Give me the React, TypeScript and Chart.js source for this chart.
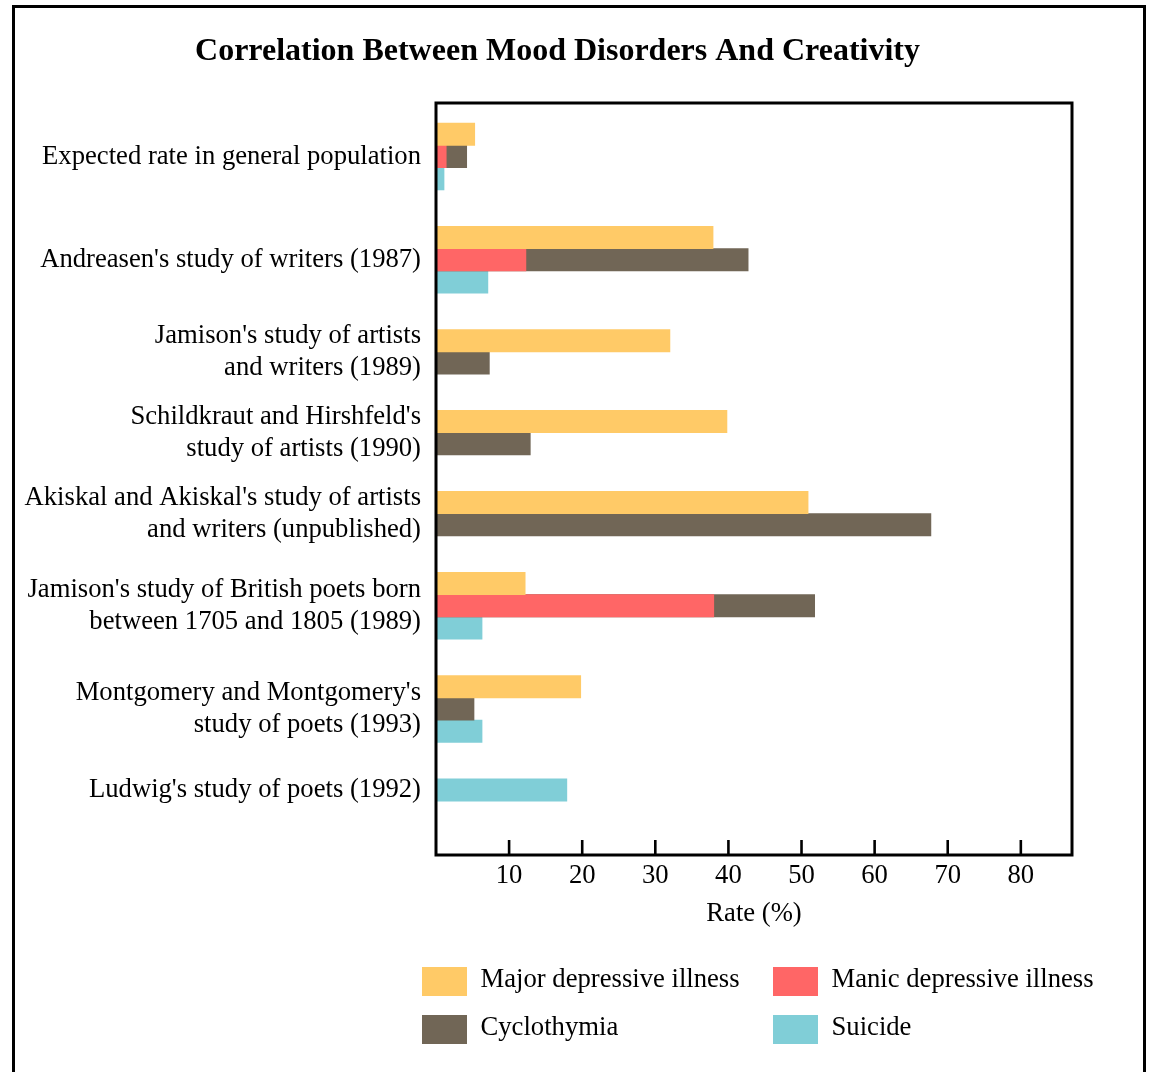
import React, { useEffect, useRef } from "react";
import { Chart, registerables } from "chart.js";

Chart.register(...registerables);

// ---------- data ----------
const categories: (string | string[])[] = [
  "Expected rate in general population",
  "Andreasen's study of writers (1987)",
  ["Jamison's study of artists", "and writers (1989)"],
  ["Schildkraut and Hirshfeld's", "study of artists (1990)"],
  ["Akiskal and Akiskal's study of artists", "and writers (unpublished)"],
  ["Jamison's study of British poets born", "between 1705 and 1805 (1989)"],
  ["Montgomery and Montgomery's", "study of poets (1993)"],
  "Ludwig's study of poets (1992)",
];

const seriesNames = [
  "Major depressive illness",
  "Manic depressive illness",
  "Cyclothymia",
  "Suicide",
];

const majorDepressive: (number | null)[] = [5.3, 37.9, 32, 39.8, 50.9, 12.2, 19.8, null];
const manicDepressive: (number | null)[] = [1.4, 12.3, null, null, null, 38, null, null];
const cyclothymia: (number | null)[] = [4.2, 42.7, 7.3, 12.9, 67.7, 51.8, 5.2, null];
const suicide: (number | null)[] = [1.1, 7.1, null, null, null, 6.3, 6.3, 17.9];

const xTickValues = [10, 20, 30, 40, 50, 60, 70, 80];
const xMax = 87;

const chartTitle = "Correlation Between Mood Disorders And Creativity";
const xTitle = "Rate (%)";

// ---------- styles ----------
const seriesColors = ["#ffca67", "#ff6666", "#716656", "#80ced7"];
// manic and cyclothymia share one row (manic drawn in front)
const seriesSlot = [0, 1, 1, 2];
const FONT = "'Liberation Serif', 'Times New Roman', Times, serif";
const FS = 26.67;

// row layout (in row units)
const GAP = 1.63;
const PAD_TOP = 0.9;
const PAD_BOTTOM = 2.42;

const allSeries = [majorDepressive, manicDepressive, cyclothymia, suicide];

function buildLayout() {
  let cursor = PAD_TOP;
  const centers: number[] = [];
  const positions: (number | null)[][] = allSeries.map(() => []);
  categories.forEach((_, ci) => {
    if (ci > 0) cursor += GAP;
    const start = cursor;
    const slotPos: Record<number, number> = {};
    [0, 1, 2].forEach((slot) => {
      const used = allSeries.some((arr, si) => seriesSlot[si] === slot && arr[ci] != null);
      if (used) {
        slotPos[slot] = cursor + 0.5;
        cursor += 1;
      }
    });
    centers.push((start + cursor) / 2);
    allSeries.forEach((arr, si) => {
      positions[si][ci] = arr[ci] == null ? null : slotPos[seriesSlot[si]];
    });
  });
  return { centers, positions, total: cursor + PAD_BOTTOM };
}

const framePlugin = {
  id: "frameAndTicks",
  afterDatasetsDraw(chart: any) {
    const { ctx, chartArea, scales } = chart;
    const { left, top, right, bottom } = chartArea;
    ctx.save();
    ctx.strokeStyle = "#000";
    ctx.lineWidth = 3;
    ctx.strokeRect(left, top, right - left, bottom - top);
    ctx.lineWidth = 2.6;
    scales.x.ticks.forEach((t: any) => {
      if (t.value <= 0) return;
      const px = scales.x.getPixelForValue(t.value);
      ctx.beginPath();
      ctx.moveTo(px, bottom);
      ctx.lineTo(px, bottom - 15);
      ctx.stroke();
    });
    ctx.restore();
  },
};

const legendPlugin = {
  id: "gridLegend",
  afterDraw(chart: any) {
    const { ctx } = chart;
    const colX = [422, 773];
    const rowY = [967, 1015];
    ctx.save();
    ctx.font = `${FS}px ${FONT}`;
    ctx.textAlign = "left";
    ctx.textBaseline = "alphabetic";
    chart.data.datasets.forEach((ds: any, i: number) => {
      const x = colX[i % 2];
      const y = rowY[Math.floor(i / 2)];
      ctx.fillStyle = ds.backgroundColor;
      ctx.fillRect(x, y, 45, 29);
      ctx.fillStyle = "#000";
      ctx.fillText(ds.label, x + 58.5, y + 19.5);
    });
    ctx.restore();
  },
};

export default function App() {
  const ref = useRef<HTMLCanvasElement>(null);

  useEffect(() => {
    const { centers, positions, total } = buildLayout();
    const datasets = allSeries.map((arr, si) => ({
      label: seriesNames[si],
      backgroundColor: seriesColors[si],
      borderWidth: 0,
      grouped: false,
      barPercentage: 1,
      categoryPercentage: 1,
      data: arr
        .map((v, ci) => (v == null ? null : { x: v, y: positions[si][ci] as number }))
        .filter((p) => p !== null) as { x: number; y: number }[],
    }));

    const chart = new Chart(ref.current as HTMLCanvasElement, {
      type: "bar",
      data: { datasets },
      plugins: [framePlugin, legendPlugin],
      options: {
        indexAxis: "y",
        responsive: false,
        animation: false,
        layout: { padding: { left: 20, right: 54, top: 0, bottom: 142 } },
        plugins: {
          legend: { display: false },
          tooltip: { enabled: false },
          title: {
            display: true,
            text: chartTitle,
            color: "#000",
            font: { family: FONT, size: 32, weight: "bold", lineHeight: 1.2 },
            padding: { top: 33, bottom: 31.6 },
          },
        },
        scales: {
          x: {
            type: "linear",
            position: "bottom",
            min: 0,
            max: xMax,
            offset: false,
            grid: { display: false, drawTicks: false },
            border: { display: false },
            afterBuildTicks: (s: any) => {
              s.ticks = [0, ...xTickValues].map((v) => ({ value: v }));
            },
            ticks: {
              autoSkip: false,
              maxRotation: 0,
              padding: 5,
              color: "#000",
              font: { family: FONT, size: FS },
              callback: (v: any) => (v === 0 ? "" : String(v)),
            },
            title: {
              display: true,
              text: xTitle,
              color: "#000",
              font: { family: FONT, size: FS, lineHeight: 1.2 },
              padding: { top: 0, bottom: 0 },
            },
            afterFit: (s: any) => {
              s.height = 75;
            },
          },
          y: {
            type: "linear",
            position: "left",
            reverse: true,
            offset: false,
            min: 0,
            max: total,
            grid: { display: false, drawTicks: false },
            border: { display: false },
            afterBuildTicks: (s: any) => {
              s.ticks = centers.map((v) => ({ value: v }));
            },
            ticks: {
              autoSkip: false,
              padding: 15,
              color: "#000",
              font: { family: FONT, size: FS, lineHeight: 32 / FS },
              callback: (_v: any, i: number) => categories[i],
            },
            afterFit: (s: any) => {
              s.width = 416;
            },
          },
          // empty spacer on the right, keeps the title centred as in the original
          yRight: {
            type: "linear",
            position: "right",
            display: true,
            grid: { display: false, drawTicks: false },
            border: { display: false },
            ticks: { display: false },
            afterFit: (s: any) => {
              s.width = 23;
            },
          },
        },
      } as any,
    });
    return () => chart.destroy();
  }, []);

  return (
    <div style={{ position: "absolute", left: 0, top: 0, width: 1149, height: 1072, overflow: "hidden" }}>
      <canvas
        ref={ref}
        width={1149}
        height={1072}
        style={{ position: "absolute", left: 0, top: 0, width: 1149, height: 1072 }}
      />
      <div
        style={{
          position: "absolute",
          left: 12,
          top: 5,
          width: 1134,
          height: 1200,
          border: "3px solid #000",
          boxSizing: "border-box",
          pointerEvents: "none",
        }}
      />
    </div>
  );
}
